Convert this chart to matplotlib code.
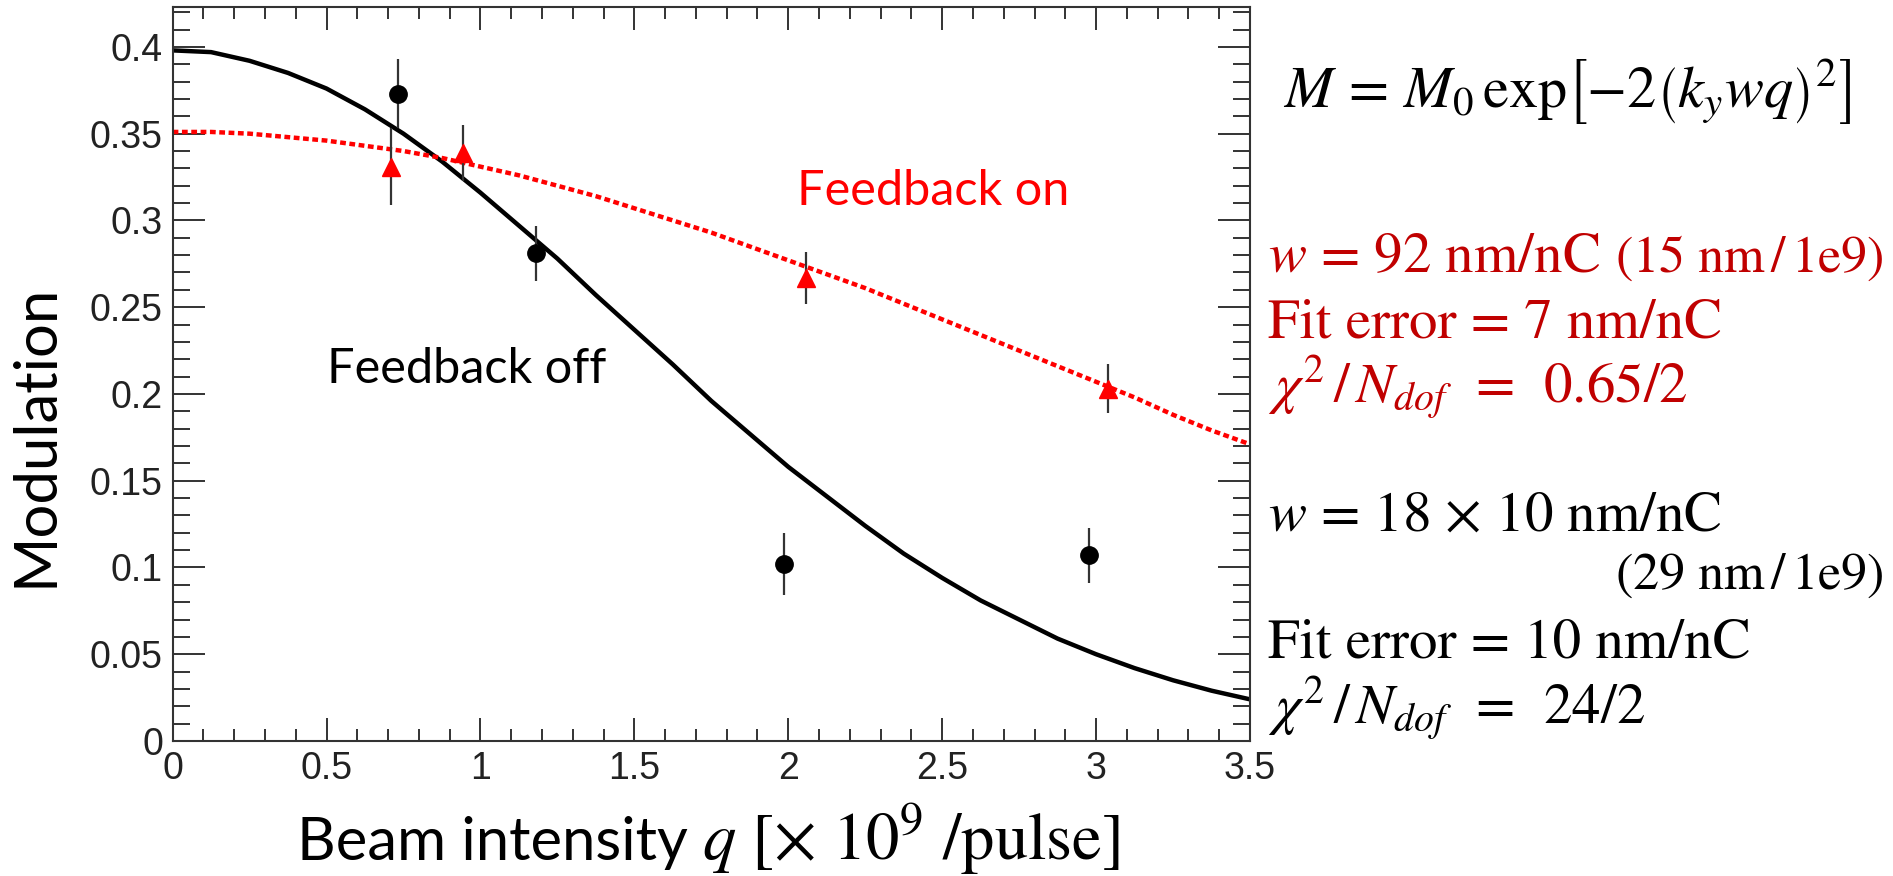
import numpy as np
import matplotlib
matplotlib.use("Agg")
import matplotlib.pyplot as plt
from matplotlib.ticker import MultipleLocator, FuncFormatter

q_off = [0.733, 1.181, 1.985, 2.977]
m_off = [0.373, 0.281, 0.102, 0.107]
e_off = [0.020, 0.016, 0.018, 0.016]

q_on = [0.708, 0.942, 2.058, 3.040]
m_on = [0.331, 0.339, 0.267, 0.203]
e_on = [0.022, 0.016, 0.015, 0.014]

# Fit curves, every 0.125
q_fit = [0.0, 0.125, 0.25, 0.375, 0.5, 0.625, 0.75, 0.875, 1.0, 1.125,
         1.25, 1.375, 1.5, 1.625, 1.75, 1.875, 2.0, 2.125, 2.25, 2.375,
         2.5, 2.625, 2.75, 2.875, 3.0, 3.125, 3.25, 3.375, 3.5]
fit_off = [0.398, 0.397, 0.392, 0.385, 0.376, 0.364, 0.350, 0.334, 0.316, 0.297,
           0.278, 0.257, 0.237, 0.217, 0.196, 0.177, 0.158, 0.141, 0.124, 0.108,
           0.094, 0.081, 0.070, 0.059, 0.050, 0.042, 0.035, 0.029, 0.024]
fit_on = [0.351, 0.351, 0.350, 0.348, 0.346, 0.343, 0.340, 0.336, 0.331, 0.326,
          0.320, 0.314, 0.307, 0.300, 0.293, 0.285, 0.277, 0.269, 0.261, 0.252,
          0.243, 0.234, 0.225, 0.216, 0.207, 0.198, 0.188, 0.179, 0.171]

W, H = 1893, 876
RED_TXT = "#C00000"


def px(x, y):
    """pixel position (from top-left) -> figure fraction"""
    return x / W, 1 - y / H


plt.rcParams["mathtext.fontset"] = "stix"

fig = plt.figure(figsize=(W / 100, H / 100), dpi=100)
ax = fig.add_axes([172.6 / W, 1 - 741 / H, (1250 - 172.6) / W, (741 - 7) / H])

ax.plot(q_fit, fit_off, color="black", lw=3.2, zorder=2)
ax.plot(q_fit, fit_on, color="red", lw=3.2, ls=(0, (1.3, 0.8)), zorder=2)

ax.errorbar(q_off, m_off, yerr=e_off, fmt="o", color="black", ms=12.5,
            ecolor="#333333", elinewidth=1.6, capsize=0, zorder=3)
ax.errorbar(q_on, m_on, yerr=e_on, fmt="^", color="red", ms=12.5,
            ecolor="#333333", elinewidth=1.6, capsize=0, zorder=3)

ax.set_xlim(0, 3.5)
ax.set_ylim(0, 0.423)

ax.xaxis.set_major_locator(MultipleLocator(0.5))
ax.xaxis.set_minor_locator(MultipleLocator(0.1))
ax.yaxis.set_major_locator(MultipleLocator(0.05))
ax.yaxis.set_minor_locator(MultipleLocator(0.01))
fmt = FuncFormatter(lambda v, pos: "%g" % round(v, 3))
ax.xaxis.set_major_formatter(fmt)
ax.yaxis.set_major_formatter(fmt)

ax.tick_params(which="both", direction="in", top=True, right=True,
               color="#333333", width=1.4)
ax.tick_params(axis="x", which="major", length=16.5, pad=7)
ax.tick_params(axis="x", which="minor", length=8.5)
ax.tick_params(axis="y", which="major", length=23, pad=7)
ax.tick_params(axis="y", which="minor", length=12)
for lab in ax.get_xticklabels() + ax.get_yticklabels():
    lab.set_fontfamily("Liberation Sans")
    lab.set_fontsize(27)
    lab.set_color("#222222")
for sp in ax.spines.values():
    sp.set_linewidth(1.5)
    sp.set_color("#333333")

renderer = fig.canvas.get_renderer()


def text_row(x0, y0, pieces):
    """put text pieces one after another on a common baseline (pixels)"""
    x = x0
    for s, gap, kw in pieces:
        x += gap
        t = fig.text(*px(x, y0), s, ha="left", va="baseline", **kw)
        x = t.get_window_extent(renderer).x1


# Axis titles
fig.text(*px(36, 435), "Modulation", rotation=90, family="Lato",
         fontsize=43, ha="center", va="center")
text_row(297, 860, [
    ("Beam intensity", 0, dict(family="Lato", fontsize=43)),
    (r"$q\ [\times\ 10^{9}\ /\mathrm{pulse}]$", 14, dict(fontsize=48)),
])

# In-plot labels
fig.text(*px(327, 383), "Feedback off", family="Lato", fontsize=35,
         color="black", ha="left", va="baseline")
fig.text(*px(797, 205), "Feedback on", family="Lato", fontsize=35,
         color="red", ha="left", va="baseline")

# Fit model and results
fig.text(*px(1283, 108),
         r"$M\,=\,M_0\,\mathrm{exp}\left[-2\left(k_y w q\right)^2\right]$",
         fontsize=42, ha="left", va="baseline")

big = dict(family="STIXGeneral", fontsize=41)
small = dict(family="STIXGeneral", fontsize=37.5)

text_row(1268, 272, [
    (r"$w$ = 92 nm/nC", 0, dict(big, color=RED_TXT)),
    (r"(15 nm$\,$/$\,$1e9)", 15, dict(small, color=RED_TXT)),
])
fig.text(*px(1268, 337), "Fit error = 7 nm/nC", color=RED_TXT,
         ha="left", va="baseline", **big)
fig.text(*px(1268, 402), r"$\chi^{2}\,/\,N_{dof}$  =  0.65/2", color=RED_TXT,
         ha="left", va="baseline", **big)

fig.text(*px(1268, 531), r"$w$ = 18 × 10 nm/nC", color="black",
         ha="left", va="baseline", **big)
fig.text(*px(1883, 589), r"(29 nm$\,$/$\,$1e9)", color="black",
         ha="right", va="baseline", **small)
fig.text(*px(1268, 658), "Fit error = 10 nm/nC", color="black",
         ha="left", va="baseline", **big)
fig.text(*px(1268, 723), r"$\chi^{2}\,/\,N_{dof}$  =  24/2", color="black",
         ha="left", va="baseline", **big)

fig.savefig("out.png", dpi=100, facecolor="white")
